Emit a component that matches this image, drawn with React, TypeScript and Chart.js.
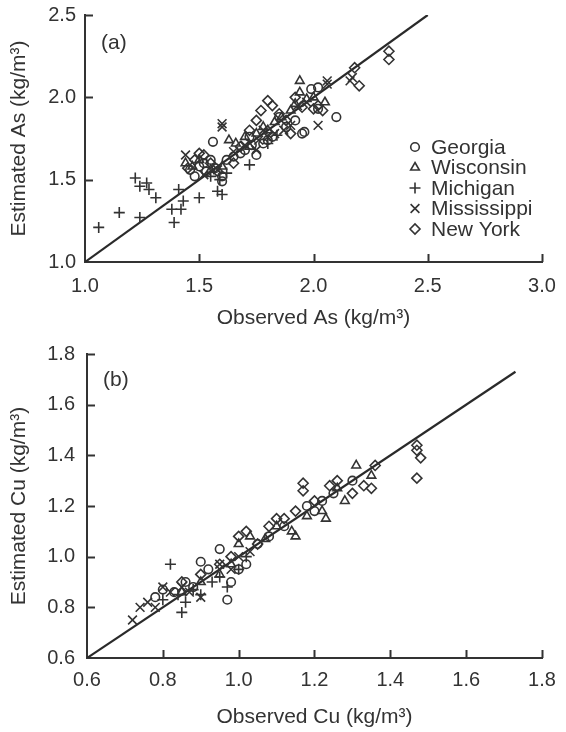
import React, { useEffect, useRef } from 'react';
import { Chart, registerables } from 'chart.js';

Chart.register(...registerables);

const INK = '#333333';
const FONT = '"Liberation Sans", Arial, sans-serif';

const SERIES_NAMES = ['Georgia', 'Wisconsin', 'Michigan', 'Mississippi', 'New York'];
const POINT_STYLES = ['circle', 'triangle', 'cross', 'crossRot', 'rectRot'];
const POINT_RADII = [4.3, 5, 5.5, 6.2, 5];

// ---------- Panel (a): As ----------
const AS_X_TICKS = [1.0, 1.5, 2.0, 2.5, 3.0];
const AS_Y_TICKS = [1.0, 1.5, 2.0, 2.5];
const AS_LINE = [1.0, 2.5];

const AS_GEORGIA_OBS = [1.46, 1.48, 1.5, 1.52, 1.53, 1.55, 1.56, 1.57, 1.6, 1.6, 1.62, 1.65, 1.68, 1.7, 1.72, 1.73, 1.75, 1.78, 1.8, 1.82, 1.85, 1.88, 1.92, 1.95, 1.96, 1.99, 2.02, 2.1, 2.02];
const AS_GEORGIA_EST = [1.56, 1.52, 1.58, 1.6, 1.55, 1.62, 1.73, 1.57, 1.49, 1.52, 1.62, 1.64, 1.66, 1.68, 1.76, 1.71, 1.65, 1.72, 1.74, 1.76, 1.88, 1.82, 1.86, 1.78, 1.79, 2.05, 2.06, 1.88, 1.93];

const AS_WISCONSIN_OBS = [1.44, 1.47, 1.5, 1.55, 1.6, 1.63, 1.66, 1.7, 1.72, 1.75, 1.78, 1.8, 1.83, 1.86, 1.9, 1.92, 1.94, 1.94, 1.97, 2.0, 2.05];
const AS_WISCONSIN_EST = [1.6, 1.58, 1.62, 1.56, 1.58, 1.74, 1.72, 1.76, 1.7, 1.78, 1.82, 1.8, 1.85, 1.88, 1.92, 1.96, 2.1, 2.03, 1.99, 2.0, 1.97];

const AS_MICHIGAN_OBS = [1.06, 1.15, 1.24, 1.22, 1.24, 1.27, 1.28, 1.31, 1.38, 1.39, 1.41, 1.43, 1.42, 1.5, 1.58, 1.6, 1.59, 1.72, 1.62, 1.55, 1.8, 1.84];
const AS_MICHIGAN_EST = [1.21, 1.3, 1.27, 1.51, 1.46, 1.48, 1.44, 1.39, 1.32, 1.24, 1.44, 1.37, 1.32, 1.39, 1.43, 1.41, 1.5, 1.59, 1.54, 1.52, 1.72, 1.77];

const AS_MISSISSIPPI_OBS = [1.44, 1.6, 1.6, 1.52, 1.58, 1.65, 1.7, 1.76, 1.78, 1.8, 1.83, 1.87, 1.9, 1.93, 1.97, 2.02, 2.06, 2.06, 2.17, 2.16, 1.75];
const AS_MISSISSIPPI_EST = [1.65, 1.84, 1.82, 1.53, 1.56, 1.67, 1.71, 1.74, 1.8, 1.76, 1.78, 1.8, 1.83, 1.95, 1.97, 1.83, 2.08, 2.1, 2.12, 2.1, 1.68];

const AS_NEWYORK_OBS = [1.45, 1.48, 1.5, 1.52, 1.55, 1.58, 1.65, 1.68, 1.72, 1.75, 1.77, 1.8, 1.82, 1.85, 1.88, 1.9, 1.92, 1.95, 2.0, 2.02, 2.04, 2.18, 2.2, 2.33, 2.33];
const AS_NEWYORK_EST = [1.57, 1.62, 1.66, 1.65, 1.6, 1.55, 1.6, 1.7, 1.8, 1.86, 1.92, 1.98, 1.95, 1.9, 1.86, 1.78, 2.0, 1.94, 1.93, 1.95, 1.92, 2.18, 2.07, 2.28, 2.23];

// ---------- Panel (b): Cu ----------
const CU_X_TICKS = [0.6, 0.8, 1.0, 1.2, 1.4, 1.6, 1.8];
const CU_Y_TICKS = [0.6, 0.8, 1.0, 1.2, 1.4, 1.6, 1.8];
const CU_LINE = [0.6, 1.73];

const CU_GEORGIA_OBS = [0.78, 0.8, 0.83, 0.86, 0.88, 0.9, 0.92, 0.95, 0.97, 0.98, 1.0, 1.02, 1.05, 1.08, 1.12, 1.18, 1.2, 1.22, 1.25, 1.3];
const CU_GEORGIA_EST = [0.84, 0.87, 0.86, 0.9, 0.88, 0.98, 0.95, 1.03, 0.83, 0.9, 0.95, 0.97, 1.05, 1.08, 1.12, 1.2, 1.18, 1.22, 1.25, 1.3];

const CU_WISCONSIN_OBS = [0.85, 0.9, 0.95, 0.98, 1.0, 1.03, 1.07, 1.1, 1.14, 1.15, 1.18, 1.22, 1.23, 1.26, 1.28, 1.31, 1.35];
const CU_WISCONSIN_EST = [0.86, 0.9, 0.93, 0.97, 1.05, 1.08, 1.07, 1.12, 1.1, 1.08, 1.16, 1.18, 1.15, 1.27, 1.22, 1.36, 1.32];

const CU_MICHIGAN_OBS = [0.82, 0.8, 0.85, 0.84, 0.86, 0.88, 0.9, 0.93, 0.95, 0.97, 1.0, 1.02];
const CU_MICHIGAN_EST = [0.97, 0.83, 0.78, 0.85, 0.82, 0.87, 0.85, 0.9, 0.92, 0.88, 0.95, 1.0];

const CU_MISSISSIPPI_OBS = [0.72, 0.74, 0.76, 0.78, 0.8, 0.82, 0.85, 0.87, 0.9, 0.95, 0.98, 1.0, 1.03];
const CU_MISSISSIPPI_EST = [0.75, 0.8, 0.82, 0.8, 0.88, 0.86, 0.88, 0.86, 0.84, 0.97, 0.95, 1.0, 1.02];

const CU_NEWYORK_OBS = [0.85, 0.9, 0.95, 0.98, 1.0, 1.02, 1.05, 1.08, 1.1, 1.12, 1.15, 1.17, 1.17, 1.2, 1.24, 1.26, 1.3, 1.33, 1.36, 1.35, 1.47, 1.47, 1.48, 1.47];
const CU_NEWYORK_EST = [0.9, 0.93, 0.97, 1.0, 1.08, 1.1, 1.05, 1.12, 1.15, 1.15, 1.18, 1.29, 1.26, 1.22, 1.28, 1.3, 1.25, 1.28, 1.36, 1.27, 1.44, 1.42, 1.39, 1.31];

const zip = (xs: number[], ys: number[]) => xs.map((x, i) => ({ x, y: ys[i] }));

function drawMarker(ctx: CanvasRenderingContext2D, style: string, x: number, y: number, r: number) {
  ctx.beginPath();
  if (style === 'circle') {
    ctx.arc(x, y, r, 0, Math.PI * 2);
    ctx.closePath();
  } else if (style === 'triangle') {
    for (let k = 0; k < 3; k++) {
      const a = (k * 2 * Math.PI) / 3;
      const px = x + Math.sin(a) * r;
      const py = y - Math.cos(a) * r;
      if (k === 0) ctx.moveTo(px, py); else ctx.lineTo(px, py);
    }
    ctx.closePath();
  } else if (style === 'cross') {
    ctx.moveTo(x, y - r); ctx.lineTo(x, y + r);
    ctx.moveTo(x - r, y); ctx.lineTo(x + r, y);
  } else if (style === 'crossRot') {
    const d = r * Math.SQRT1_2;
    ctx.moveTo(x - d, y - d); ctx.lineTo(x + d, y + d);
    ctx.moveTo(x - d, y + d); ctx.lineTo(x + d, y - d);
  } else if (style === 'rectRot') {
    ctx.moveTo(x - r, y); ctx.lineTo(x, y - r); ctx.lineTo(x + r, y); ctx.lineTo(x, y + r);
    ctx.closePath();
  }
  ctx.stroke();
}

const extrasPlugin = {
  id: 'extras',
  afterDatasetsDraw(chart: any, _args: any, opts: any) {
    const { ctx, chartArea, scales } = chart;
    const xs = scales.x;
    const ys = scales.y;
    ctx.save();
    // inward tick marks
    ctx.strokeStyle = INK;
    ctx.lineWidth = 2;
    xs.ticks.forEach((t: any) => {
      if (t.value === xs.min) return;
      const px = Math.round(xs.getPixelForValue(t.value)) + 0.5;
      ctx.beginPath();
      ctx.moveTo(px, chartArea.bottom);
      ctx.lineTo(px, chartArea.bottom - 8);
      ctx.stroke();
    });
    ys.ticks.forEach((t: any) => {
      if (t.value === ys.min) return;
      const py = Math.round(ys.getPixelForValue(t.value)) + 0.5;
      ctx.beginPath();
      ctx.moveTo(chartArea.left, py);
      ctx.lineTo(chartArea.left + 8, py);
      ctx.stroke();
    });
    // panel label
    ctx.fillStyle = INK;
    ctx.font = `21px ${FONT}`;
    ctx.textBaseline = 'middle';
    ctx.textAlign = 'left';
    ctx.fillText(opts.label, chartArea.left + 16, chartArea.top + opts.labelDy);
    // legend
    if (opts.legend) {
      ctx.lineWidth = 1.6;
      SERIES_NAMES.forEach((name, i) => {
        const yy = chartArea.top + opts.legendTop + i * opts.legendStep;
        drawMarker(ctx, POINT_STYLES[i], chartArea.left + opts.legendX, yy, POINT_RADII[i]);
        ctx.fillText(name, chartArea.left + opts.legendX + 16, yy + 1);
      });
    }
    ctx.restore();
  },
};

function makeDatasets(obs: number[][], est: number[][], line: number[]) {
  const ds: any[] = SERIES_NAMES.map((name, i) => ({
    type: 'scatter',
    label: name,
    data: zip(obs[i], est[i]),
    pointStyle: POINT_STYLES[i],
    pointRadius: POINT_RADII[i],
    pointBorderWidth: 1.6,
    borderColor: INK,
    backgroundColor: 'rgba(0,0,0,0)',
    pointBackgroundColor: 'rgba(0,0,0,0)',
  }));
  ds.push({
    type: 'line',
    label: '1:1',
    data: zip(line, line),
    borderColor: '#2a2a2a',
    borderWidth: 2.2,
    pointRadius: 0,
    fill: false,
  });
  return ds;
}

function axisConfig(ticks: number[], title: string, isX: boolean, size: number, titlePad: number, tickPad: number) {
  return {
    type: 'linear',
    min: ticks[0],
    max: ticks[ticks.length - 1],
    afterBuildTicks: (s: any) => {
      s.ticks = ticks.map((v) => ({ value: v }));
    },
    afterFit: (s: any) => {
      if (isX) s.height = size; else s.width = size;
      s.paddingTop = 0;
      s.paddingBottom = 0;
      s.paddingLeft = 0;
      s.paddingRight = 0;
    },
    grid: { display: false, drawTicks: false },
    border: { display: true, color: INK, width: 2 },
    ticks: {
      color: INK,
      font: { family: FONT, size: 20 },
      padding: tickPad,
      autoSkip: false,
      maxRotation: 0,
      callback: (v: any) => Number(v).toFixed(1),
    },
    title: {
      display: true,
      text: title,
      color: INK,
      font: { family: FONT, size: 21 },
      padding: isX ? { top: 0, bottom: titlePad } : { top: titlePad, bottom: 0 },
    },
  };
}

function Panel(props: { cfg: any; width: number; height: number }) {
  const ref = useRef<HTMLCanvasElement | null>(null);
  useEffect(() => {
    if (!ref.current) return;
    const chart = new Chart(ref.current, props.cfg);
    return () => chart.destroy();
  }, []);
  return (
    <canvas
      ref={ref}
      width={props.width}
      height={props.height}
      style={{ display: 'block', width: props.width, height: props.height }}
    />
  );
}

const cfgA = {
  type: 'scatter',
  data: {
    datasets: makeDatasets(
      [AS_GEORGIA_OBS, AS_WISCONSIN_OBS, AS_MICHIGAN_OBS, AS_MISSISSIPPI_OBS, AS_NEWYORK_OBS],
      [AS_GEORGIA_EST, AS_WISCONSIN_EST, AS_MICHIGAN_EST, AS_MISSISSIPPI_EST, AS_NEWYORK_EST],
      AS_LINE
    ),
  },
  options: {
    responsive: false,
    animation: false,
    devicePixelRatio: 1,
    layout: { padding: { top: 15, right: 24, left: 0, bottom: 0 } },
    plugins: {
      legend: { display: false },
      tooltip: { enabled: false },
      extras: { label: '(a)', labelDy: 28, legend: true, legendX: 330, legendTop: 132, legendStep: 20.5 },
    },
    scales: {
      x: axisConfig(AS_X_TICKS, 'Observed As (kg/m³)', true, 78, 9, 12),
      y: axisConfig(AS_Y_TICKS, 'Estimated As (kg/m³)', false, 85, 7, 9),
    },
  },
  plugins: [extrasPlugin],
};

const cfgB = {
  type: 'scatter',
  data: {
    datasets: makeDatasets(
      [CU_GEORGIA_OBS, CU_WISCONSIN_OBS, CU_MICHIGAN_OBS, CU_MISSISSIPPI_OBS, CU_NEWYORK_OBS],
      [CU_GEORGIA_EST, CU_WISCONSIN_EST, CU_MICHIGAN_EST, CU_MISSISSIPPI_EST, CU_NEWYORK_EST],
      CU_LINE
    ),
  },
  options: {
    responsive: false,
    animation: false,
    devicePixelRatio: 1,
    layout: { padding: { top: 14, right: 24, left: 0, bottom: 0 } },
    plugins: {
      legend: { display: false },
      tooltip: { enabled: false },
      extras: { label: '(b)', labelDy: 26, legend: false },
    },
    scales: {
      x: axisConfig(CU_X_TICKS, 'Observed Cu (kg/m³)', true, 74, 2, 10),
      y: axisConfig(CU_Y_TICKS, 'Estimated Cu (kg/m³)', false, 87, 7, 12),
    },
  },
  plugins: [extrasPlugin],
};

export default function App() {
  return (
    <div style={{ position: 'fixed', left: 0, top: 0, width: 566, height: 732, background: '#fff' }}>
      <Panel cfg={cfgA} width={566} height={340} />
      <Panel cfg={cfgB} width={566} height={392} />
    </div>
  );
}
